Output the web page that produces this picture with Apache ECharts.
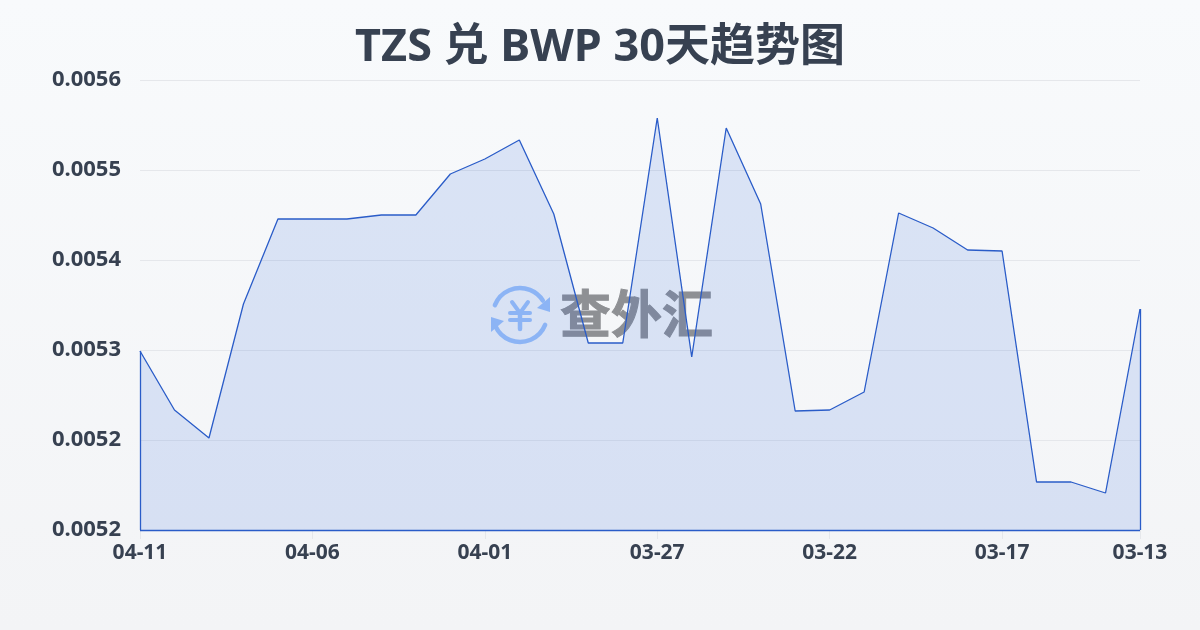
<!DOCTYPE html>
<html><head><meta charset="utf-8">
<style>html,body{margin:0;padding:0;background:#f4f6f9}#c{width:1200px;height:630px}</style>
<script src="https://cdn.jsdelivr.net/npm/echarts@6/dist/echarts.min.js"></script>
</head><body><div id="c"></div>
<script>
const titleText = 'TZS 兑 BWP 30天趋势图';
const dates = ['04-11','04-10','04-09','04-08','04-07','04-06','04-05','04-04','04-03','04-02','04-01','03-31','03-30','03-29','03-28','03-27','03-26','03-25','03-24','03-23','03-22','03-21','03-20','03-19','03-18','03-17','03-16','03-15','03-14','03-13'];
const rates = [0.005329,0.005270,0.005242,0.005376,0.005461,0.005461,0.005461,0.005465,0.005465,0.005506,0.005521,0.005540,0.005466,0.005337,0.005337,0.005562,0.005323,0.005552,0.005476,0.005269,0.005270,0.005288,0.005467,0.005452,0.005430,0.005429,0.005198,0.005198,0.005187,0.005371];
const yMin = 0.00515, yMax = 0.0056;
const yTicks = [0.00515,0.00524,0.00533,0.00542,0.00551,0.0056];
const lastIndex = dates.length - 1;
const showTick = i => i % 5 === 0 || i === lastIndex;
const font = '"Noto Sans","Noto Sans CJK SC",sans-serif';
const lineColor = '#2a5cc8';
const logoBlue = '#9cc2fa';
const chart = echarts.init(document.getElementById('c'), null, {renderer:'canvas'});
chart.setOption({
  animation:false,
  backgroundColor:new echarts.graphic.LinearGradient(0,0,0,1,[{offset:0,color:'#f8fafc'},{offset:1,color:'#f3f4f6'}]),
  title:{text:titleText,left:'center',top:21,textStyle:{fontFamily:font,fontSize:45,fontWeight:700,color:'#374151'}},
  grid:{left:140,right:60,top:80,bottom:100,containLabel:false},
  xAxis:{type:'category',boundaryGap:false,data:dates,
    axisLine:{show:false},
    axisTick:{show:true,interval:i=>showTick(i),length:9,lineStyle:{color:'#e5e7eb'}},
    axisLabel:{interval:i=>showTick(i),showMaxLabel:true,margin:13,fontFamily:font,fontSize:21,fontWeight:700,color:'#374151'},
    splitLine:{show:false}},
  yAxis:{type:'value',min:yMin,max:yMax,
    axisLine:{show:false},axisTick:{show:false,customValues:yTicks},
    axisLabel:{customValues:yTicks,margin:19,fontFamily:font,fontSize:22,fontWeight:700,color:'#374151',formatter:v=>Number(v).toFixed(4)},
    splitLine:{show:true,lineStyle:{color:'#e5e7eb',width:1}}},
  graphic:{elements:[
    {type:'group',z:0,silent:true,children:[
      {type:'arc',shape:{cx:520,cy:315,r:27,startAngle:Math.PI*1.12,endAngle:Math.PI*1.82},style:{stroke:logoBlue,fill:null,lineWidth:4.5,lineCap:'round'}},
      {type:'arc',shape:{cx:520,cy:315,r:27,startAngle:Math.PI*0.12,endAngle:Math.PI*0.86},style:{stroke:logoBlue,fill:null,lineWidth:4.5,lineCap:'round'}},
      {type:'polygon',shape:{points:[[550,297],[550,312],[537,308]]},style:{fill:logoBlue}},
      {type:'polygon',shape:{points:[[491,317],[491,332],[504,321]]},style:{fill:logoBlue}},
      {type:'polyline',shape:{points:[[512,302],[520,313],[528,302]]},style:{stroke:logoBlue,fill:null,lineWidth:4,lineCap:'round'}},
      {type:'line',shape:{x1:510,y1:313,x2:530,y2:313},style:{stroke:logoBlue,lineWidth:4,lineCap:'round'}},
      {type:'line',shape:{x1:510,y1:320,x2:530,y2:320},style:{stroke:logoBlue,lineWidth:4,lineCap:'round'}},
      {type:'line',shape:{x1:520,y1:313,x2:520,y2:329},style:{stroke:logoBlue,lineWidth:4.5,lineCap:'round'}},
      {type:'text',x:560,y:288,style:{text:'查外汇',fontFamily:'"Noto Sans CJK SC",sans-serif',fontSize:51,fontWeight:700,fill:'#8e9094',stroke:'#8e9094',lineWidth:1}}
    ]}
  ]},
  series:[{type:'line',data:rates,symbol:'none',smooth:false,z:3,
    lineStyle:{color:lineColor,width:1.3},
    areaStyle:{color:'rgb(46,97,221)',opacity:0.14,origin:'start'},
    markLine:{silent:true,symbol:'none',label:{show:false},emphasis:{disabled:true},lineStyle:{color:lineColor,width:1.3,type:'solid'},
      data:[
        [{xAxis:0,yAxis:rates[0]},{xAxis:0,yAxis:yMin}],
        [{xAxis:0,yAxis:yMin},{xAxis:lastIndex,yAxis:yMin}],
        [{xAxis:lastIndex,yAxis:yMin},{xAxis:lastIndex,yAxis:rates[lastIndex]}]
      ]}
  }]
});
</script></body></html>
